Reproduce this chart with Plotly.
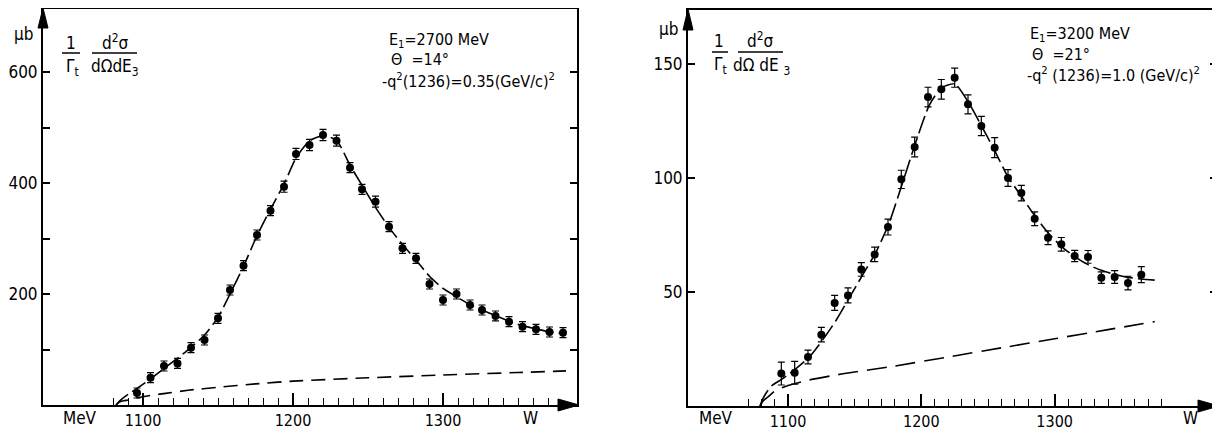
import plotly.graph_objects as go

# ---------------- data: left panel (E1 = 2700 MeV) ----------------
w_left = [1096, 1105, 1114, 1123, 1132, 1141, 1150, 1158, 1167, 1176, 1185, 1194,
          1202, 1211, 1220, 1229, 1238, 1246, 1255, 1264, 1273, 1282, 1291, 1300,
          1309, 1318, 1326, 1335, 1344, 1353, 1362, 1371, 1380]
sig_left = [21.6, 49.2, 70.3, 75.0, 103.3, 117.1, 156.2, 207.2, 251.0, 306.3, 350.1, 393.3,
            452.3, 468.5, 486.5, 476.3, 427.6, 388.6, 366.4, 321.3, 282.3, 264.3, 218.0, 189.2,
            200.0, 180.2, 171.2, 160.4, 150.1, 141.1, 136.3, 131.5, 130.3]
err_left = [9, 9, 9, 9, 9, 9, 9, 9, 9, 9, 9, 10,
            10, 10, 10, 10, 9, 9, 10, 9, 9, 9, 9, 9,
            9, 9, 9, 9, 9, 9, 9, 9, 9]
fit_w_left = [1082, 1084, 1086, 1090, 1096, 1105, 1114, 1123, 1132, 1141, 1150, 1158, 1167,
              1176, 1185, 1194, 1202, 1211, 1220, 1229, 1238, 1246, 1255, 1264, 1273, 1282,
              1291, 1300, 1309, 1318, 1326, 1335, 1344, 1353, 1362, 1371, 1382]
fit_s_left = [0, 6, 11, 19, 30, 47, 66, 84, 104, 126, 158, 200, 250,
              305, 353, 398, 445, 476, 485, 477, 432, 396, 356, 320, 289, 261,
              232, 210, 195, 181, 171, 161, 151, 143, 137, 132, 128]
bg_w_left = [1082, 1084, 1087, 1090, 1100, 1115, 1130, 1150, 1175, 1200, 1250, 1300, 1350, 1382]
bg_s_left = [0, 5, 7.5, 9, 15, 21, 26.5, 32, 38, 43, 49, 54, 58.5, 61.5]

# ---------------- data: right panel (E1 = 3200 MeV) ----------------
w_right = [1095, 1105, 1115, 1125, 1135, 1145, 1155, 1165, 1175, 1185, 1195, 1205,
           1215, 1225, 1235, 1245, 1255, 1265, 1275, 1285, 1295, 1305, 1315, 1325,
           1335, 1345, 1355, 1365]
sig_right = [14.2, 14.6, 21.5, 31.3, 45.2, 48.5, 59.9, 66.5, 78.5, 99.4, 113.6, 135.5,
             138.9, 144.0, 132.3, 122.8, 113.3, 100.0, 93.4, 82.1, 73.8, 70.9, 65.8, 65.4,
             56.3, 56.6, 53.9, 57.6]
err_right = [5.0, 5.0, 3.0, 3.2, 3.3, 3.3, 3.0, 3.2, 3.5, 4.0, 4.3, 4.3,
             4.3, 4.2, 4.2, 4.2, 4.4, 3.7, 3.4, 3.0, 3.0, 3.0, 2.5, 2.8,
             2.5, 2.8, 3.0, 3.5]
fit_w_right = [1079, 1081, 1084, 1088, 1096, 1106, 1116, 1126, 1136, 1146, 1156, 1166, 1176,
               1186, 1196, 1206, 1215, 1225, 1235, 1245, 1255, 1265, 1275, 1285, 1295, 1305,
               1315, 1325, 1335, 1345, 1355, 1365, 1375]
fit_s_right = [0, 3, 6, 9, 12, 16.4, 21.5, 29, 37.5, 47.5, 57.5, 67.5, 80.5,
               98, 116, 132, 139.5, 141.3, 133.5, 123, 112, 100.5, 92, 83.5, 76, 70,
               65.5, 62, 59.5, 57.7, 56.4, 55.7, 55.2]
bg_w_right = [1079, 1081, 1085, 1090, 1100, 1115, 1140, 1180, 1220, 1260, 1300, 1340, 1375]
bg_s_right = [0, 2, 4, 6.5, 9, 11.3, 14, 17.5, 21.5, 25.5, 29.5, 33.5, 37]

# ---------------- tick labels ----------------
x_major = [1100, 1200, 1300]
x_major_text = ["1100", "1200", "1300"]
x_minor_left = [v for v in range(1080, 1371, 10) if v not in x_major]
x_minor_right = [v for v in range(1070, 1381, 10) if v not in x_major]
y_left_vals = [100, 200, 300, 400, 500, 600]
y_left_text = ["", "200", "", "400", "", "600"]
y_right_vals = [50, 100, 150]
y_right_text = ["50", "100", "150"]

# ---------------- layout helpers ----------------
# the page body adds an 8 px margin, so the figure is drawn 8 px smaller and
# every reference pixel position is shifted by that offset
OFF = 8
W, H = 1220 - OFF, 431 - OFF
FONT = "DejaVu Sans Condensed, Liberation Sans Narrow, Arial Narrow, sans-serif"


def px(x):
    return (x - OFF) / W


def py(y):
    return 1 - (y - OFF) / H


L_DOM = [px(43), px(577)]
L_YDOM = [py(405), py(8.6)]
R_DOM = [px(688), px(1217)]
R_YDOM = [py(406), py(10)]
L_XR = [1033.33, 1389.33]
L_YR = [0, (405 - 8.6) / 0.555]
R_XR = [1025, 1421.75]
R_YR = [0, (406 - 10) / 2.28]

fig = go.Figure()

# left panel traces
fig.add_trace(go.Scatter(x=bg_w_left, y=bg_s_left, mode="lines", xaxis="x", yaxis="y",
                         line=dict(color="black", width=1.6, dash="14px,8px", shape="spline", smoothing=0.6),
                         hoverinfo="skip"))
fig.add_trace(go.Scatter(x=fit_w_left, y=fit_s_left, mode="lines", xaxis="x", yaxis="y",
                         line=dict(color="black", width=1.6, dash="16px,5px", shape="spline", smoothing=0.6),
                         hoverinfo="skip"))
fig.add_trace(go.Scatter(x=w_left, y=sig_left, mode="markers", xaxis="x", yaxis="y",
                         marker=dict(color="black", size=8),
                         error_y=dict(type="data", array=err_left, color="black", thickness=1.2, width=3.5)))

# right panel traces
fig.add_trace(go.Scatter(x=bg_w_right, y=bg_s_right, mode="lines", xaxis="x2", yaxis="y2",
                         line=dict(color="black", width=1.6, dash="20px,9px", shape="spline", smoothing=0.6),
                         hoverinfo="skip"))
fig.add_trace(go.Scatter(x=fit_w_right, y=fit_s_right, mode="lines", xaxis="x2", yaxis="y2",
                         line=dict(color="black", width=1.6, dash="18px,5px", shape="spline", smoothing=0.6),
                         hoverinfo="skip"))
fig.add_trace(go.Scatter(x=w_right, y=sig_right, mode="markers", xaxis="x2", yaxis="y2",
                         marker=dict(color="black", size=8),
                         error_y=dict(type="data", array=err_right, color="black", thickness=1.2, width=3.5)))

xtickfont = dict(family=FONT, size=16, color="black")
ytickfont = dict(family=FONT, size=17, color="black")


def xaxis(domain, rng, anchor, minor_vals):
    return dict(domain=domain, range=rng, anchor=anchor, showline=True, linewidth=2,
                linecolor="black", mirror=True, ticks="inside", tickvals=x_major,
                ticktext=x_major_text, ticklen=12, tickwidth=1.5, tickcolor="black",
                minor=dict(tickmode="array", tickvals=minor_vals, ticks="inside",
                           ticklen=7, tickwidth=1.2, tickcolor="black"),
                showgrid=False, zeroline=False, tickfont=xtickfont, fixedrange=True,
                automargin=False)


def top_axis(overlay, rng, anchor):
    return dict(overlaying=overlay, side="top", range=rng, anchor=anchor, showline=False,
                ticks="inside", tickvals=x_major, ticklen=9, tickwidth=1.5, tickcolor="black",
                showticklabels=False, showgrid=False, zeroline=False, automargin=False)


def yaxis(domain, rng, anchor, vals, text):
    return dict(domain=domain, range=rng, anchor=anchor, showline=True, linewidth=2,
                linecolor="black", mirror="ticks", ticks="inside", tickvals=vals,
                ticktext=text, ticklen=7, tickwidth=1.5, tickcolor="black",
                showgrid=False, zeroline=False, tickfont=ytickfont, fixedrange=True,
                automargin=False)


fig.update_layout(
    width=W, height=H, margin=dict(l=0, r=0, t=0, b=0, autoexpand=False),
    paper_bgcolor="white", plot_bgcolor="white", showlegend=False,
    font=dict(family=FONT, size=16, color="black"),
    xaxis=xaxis(L_DOM, L_XR, "y", x_minor_left),
    yaxis=yaxis(L_YDOM, L_YR, "x", y_left_vals, y_left_text),
    xaxis2=xaxis(R_DOM, R_XR, "y2", x_minor_right),
    yaxis2=yaxis(R_YDOM, R_YR, "x2", y_right_vals, y_right_text),
    xaxis3=top_axis("x", L_XR, "y"),
    xaxis4=top_axis("x2", R_XR, "y2"),
)

# axis arrowheads (decoration)
arrows = [
    (579, 405, "M -21 -6 L 0 0 L -21 6 Z"),
    (1219, 406, "M -21 -6 L 0 0 L -21 6 Z"),
    (43, 8, "M -5 -20 L 0 0 L 5 -20 Z"),
    (688, 9, "M -5 -21 L 0 0 L 5 -21 Z"),
]
shapes = []
for ax_, ay_, path in arrows:
    shapes.append(dict(type="path", xref="paper", yref="paper", xsizemode="pixel", ysizemode="pixel",
                       xanchor=px(ax_), yanchor=py(ay_), path=path,
                       fillcolor="black", line=dict(color="black", width=1)))
# fraction bars of the y-axis title
for x0, x1, yb in [(62, 80, 53), (92, 137, 53), (712, 728, 52), (738, 783, 52)]:
    shapes.append(dict(type="line", xref="paper", yref="paper", x0=px(x0), x1=px(x1),
                       y0=py(yb), y1=py(yb), line=dict(color="black", width=1.5)))
fig.update_layout(shapes=shapes)

ann = []


def text(x, y, s, anchor="center", size=16):
    ann.append(dict(x=px(x), y=py(y), xref="paper", yref="paper", text=s, showarrow=False,
                    xanchor=anchor, yanchor="middle", font=dict(family=FONT, size=size, color="black")))


# left panel labels
text(23, 34, "µb", size=17)
text(71, 43, "1", size=17)
text(72, 68, "Γ<sub>t</sub>", size=17)
text(115, 42, "d<sup>2</sup>σ", size=17)
text(115, 68, "dΩdE<sub>3</sub>", size=17)
text(80, 418, "MeV", size=17)
text(530, 418, "W", size=17)
text(387, 40, "E<sub>1</sub>=2700 MeV", anchor="left")
text(389, 60, "Θ  =14°", anchor="left")
text(380, 80, "-q<sup>2</sup>(1236)=0.35(GeV/c)<sup>2</sup>", anchor="left")

# right panel labels
text(668, 29, "µb", size=17)
text(719, 41, "1", size=17)
text(720, 66, "Γ<sub>t</sub>", size=17)
text(760, 40, "d<sup>2</sup>σ", size=17)
text(761, 67, "dΩ dE <sub>3</sub>", size=17)
text(716, 418, "MeV", size=17)
text(1190, 418, "W", size=17)
text(1028, 35, "E<sub>1</sub>=3200 MeV", anchor="left")
text(1030, 54, "Θ  =21°", anchor="left")
text(1025, 74, "-q<sup>2</sup> (1236)=1.0 (GeV/c)<sup>2</sup>", anchor="left")

fig.update_layout(annotations=ann)

fig.write_html("out.html")
